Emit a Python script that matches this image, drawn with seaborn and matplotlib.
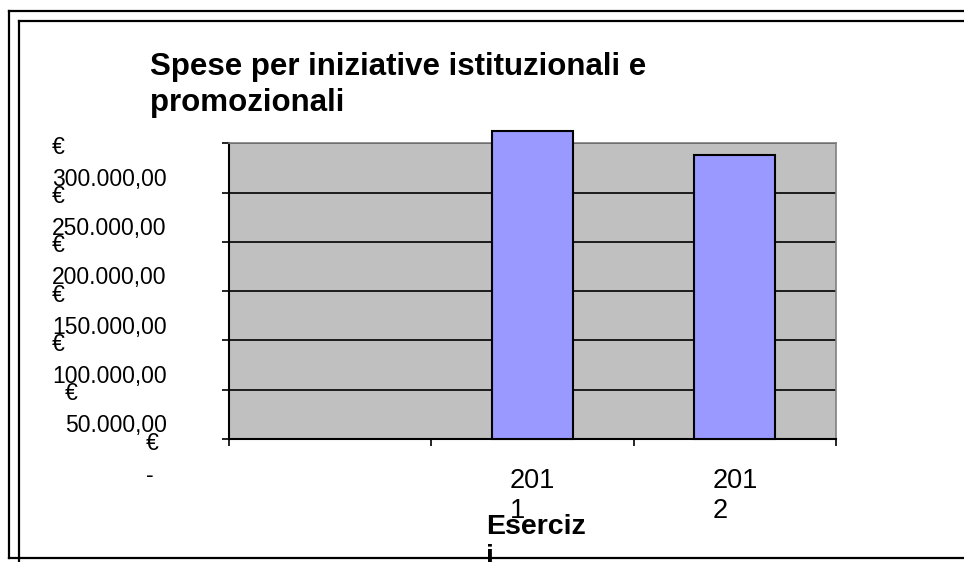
import numpy as np
import pandas as pd
import matplotlib
matplotlib.use("Agg")
import matplotlib.pyplot as plt
import matplotlib.transforms as mtransforms
from matplotlib.lines import Line2D
import seaborn as sns

# dati del grafico
categorie = ["", "2011", "2012"]
spese = [np.nan, 312000, 288000]
etichette_x = ["", "201\n1", "201\n2"]
valori_y = [0, 50000, 100000, 150000, 200000, 250000, 300000]
etichette_y = ["€\n-  ", "€\n50.000,00", "€\n100.000,00", "€\n150.000,00",
               "€\n200.000,00", "€\n250.000,00", "€\n300.000,00"]
titolo = "Spese per iniziative istituzionali e\npromozionali"
titolo_asse_x = "Eserciz\ni"

df = pd.DataFrame({"esercizio": categorie, "spesa": spese})

plt.rcParams['font.family'] = ['Liberation Sans', 'DejaVu Sans']

W, H = 964, 562
fig = plt.figure(figsize=(W / 100, H / 100), dpi=100)
ax = fig.add_axes([229 / W, 1 - 439 / H, (836 - 229) / W, (439 - 143.3) / H])
ax.set_facecolor("#C0C0C0")

sns.barplot(data=df, x="esercizio", y="spesa", order=categorie, width=0.4,
            color="#9999FF", saturation=1, edgecolor="black", linewidth=1.5,
            errorbar=None, ax=ax)
for p in ax.patches:
    p.set_clip_on(False)
    p.set_zorder(5)

ax.set_ylim(0, 300000)
ax.set_xlim(-0.5, 2.5)

# griglia orizzontale nera
ax.set_axisbelow(True)
ax.yaxis.grid(True, color="black", linewidth=1.2)
ax.xaxis.grid(False)

# asse y
ax.set_yticks(valori_y)
ax.set_yticklabels(etichette_y, fontsize=16.5, linespacing=1.5,
                   multialignment="left")
ax.tick_params(axis="y", direction="out", length=5, width=1.2, pad=40)
sposta = mtransforms.ScaledTranslation(0, -13 / 100, fig.dpi_scale_trans)
for lab in ax.get_yticklabels():
    lab.set_transform(lab.get_transform() + sposta)

# asse x: tacche ai bordi delle categorie, etichette al centro
ax.set_xticks([-0.5, 0.5, 1.5, 2.5])
ax.set_xticklabels([])
ax.set_xticks([0, 1, 2], minor=True)
ax.set_xticklabels(etichette_x, minor=True, fontsize=19.5, linespacing=1.2,
                   multialignment="left")
ax.tick_params(axis="x", which="major", direction="out", length=5, width=1.2)
ax.tick_params(axis="x", which="minor", length=0, pad=21)

ax.set_xlabel(titolo_asse_x, fontsize=20.5, fontweight="bold",
              multialignment="left", linespacing=1.2)
ax.xaxis.set_label_coords(0.505, -(514 - 439) / (439 - 143.3))
ax.set_ylabel("")

for s in ["top", "right"]:
    ax.spines[s].set_color("#808080")
    ax.spines[s].set_linewidth(1.2)
for s in ["left", "bottom"]:
    ax.spines[s].set_color("black")
    ax.spines[s].set_linewidth(1.5)

fig.text(150 / W, 1 - 52 / H, titolo, ha="left", va="top", fontsize=22.5,
         fontweight="bold", linespacing=1.25)

# cornici del grafico
def linea(x0, y0, x1, y1):
    fig.add_artist(Line2D([x0 / W, x1 / W], [1 - y0 / H, 1 - y1 / H],
                          transform=fig.transFigure, color="black", linewidth=1.6))

linea(9, 10.5, 9, 558)
linea(9, 10.5, W, 10.5)
linea(9, 558, W, 558)
linea(19, 20.5, 19, H)
linea(19, 20.5, W, 20.5)

fig.savefig("out.png", dpi=100)
